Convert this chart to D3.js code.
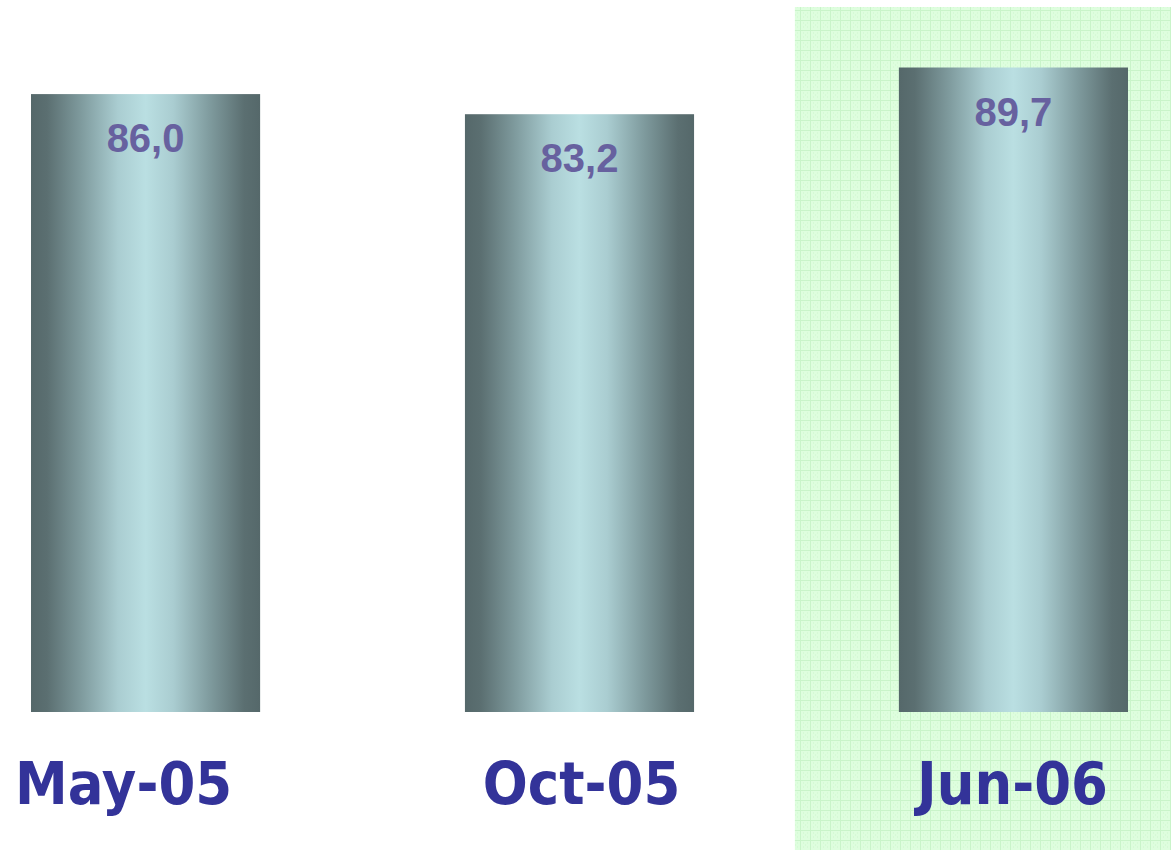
<!DOCTYPE html>
<html>
<head>
<meta charset="utf-8">
<script src="https://cdn.jsdelivr.net/npm/d3@7"></script>
<style>
  html, body { margin: 0; padding: 0; background: #ffffff; }
  svg { display: block; }
</style>
</head>
<body>
<script>
var categories = ["May-05", "Oct-05", "Jun-06"];
var values     = [86.0, 83.2, 89.7];
var labels     = ["86,0", "83,2", "89,7"];
var highlighted = "Jun-06";

var width = 1171, height = 850;

var svg = d3.select("body").append("svg")
    .attr("width", width)
    .attr("height", height);

var defs = svg.append("defs");

// cylinder-like shading of the bars
var grad = defs.append("linearGradient").attr("id", "barGrad")
    .attr("x1", "0%").attr("x2", "100%").attr("y1", "0%").attr("y2", "0%");
[[0, "#55686a"], [0.07, "#5b6f71"], [0.22, "#7f9b9e"], [0.38, "#aacdd1"],
 [0.5, "#badfe2"], [0.62, "#aacdd1"], [0.78, "#7f9b9e"], [0.93, "#5b6f71"], [1, "#55686a"]]
  .forEach(function(s){
    grad.append("stop").attr("offset", s[0]).attr("stop-color", s[1]);
  });

// light green grid paper for the highlighted period
var pat = defs.append("pattern").attr("id", "gridPat")
    .attr("patternUnits", "userSpaceOnUse")
    .attr("width", 10).attr("height", 10);
pat.append("rect").attr("width", 10).attr("height", 10).attr("fill", "#defede");
pat.append("path").attr("d", "M0,0.5H10M0.5,0V10")
    .attr("stroke", "#c9f4c9").attr("stroke-width", 1);
pat.append("path").attr("d", "M3,3h1M7,3h1M3,7h1M7,7h1M5,5h1")
    .attr("stroke", "#cff7cf").attr("stroke-width", 1);

var x = d3.scaleBand().domain(categories)
    .range([31, 1128]).paddingInner(0.472).paddingOuter(0);

var y = d3.scaleLinear().domain([0, 100]).range([712, -6.5]);

// highlight box behind the last period
var hx = x(highlighted) - 104;
svg.append("rect")
    .attr("x", hx).attr("y", 7)
    .attr("width", width - hx).attr("height", height - 7)
    .attr("fill", "url(#gridPat)");

var bars = svg.selectAll(".bar").data(values).enter().append("g").attr("class", "bar");

bars.append("rect")
    .attr("x", function(d, i){ return x(categories[i]); })
    .attr("y", function(d){ return y(d); })
    .attr("width", x.bandwidth())
    .attr("height", function(d){ return y(0) - y(d); })
    .attr("fill", "url(#barGrad)");

bars.append("text")
    .attr("x", function(d, i){ return x(categories[i]) + x.bandwidth() / 2; })
    .attr("y", function(d){ return y(d) + 58; })
    .attr("text-anchor", "middle")
    .style("font-family", "'Liberation Sans', Arial, sans-serif")
    .style("font-weight", "bold")
    .style("font-size", "40px")
    .style("fill", "#67619f")
    .text(function(d, i){ return labels[i]; });

// category labels under the bars
var labelShift = [-22, 2, -1];
svg.selectAll(".cat").data(categories).enter().append("text")
    .attr("class", "cat")
    .attr("transform", function(d, i){
      return "translate(" + (x(d) + x.bandwidth() / 2 + labelShift[i]) + ",804) scale(1,1.1)";
    })
    .attr("text-anchor", "middle")
    .style("font-family", "'DejaVu Sans', Verdana, sans-serif")
    .style("font-weight", "bold")
    .style("font-size", "53px")
    .style("fill", "#333399")
    .text(function(d){ return d; });
</script>
</body>
</html>
